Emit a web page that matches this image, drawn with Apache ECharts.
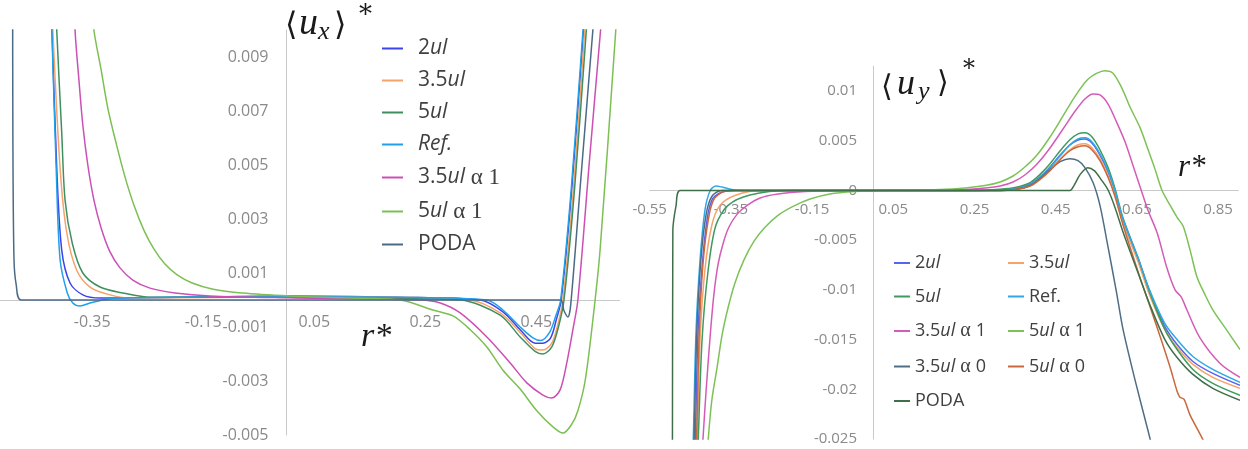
<!DOCTYPE html>
<html><head><meta charset="utf-8">
<script src="https://cdn.jsdelivr.net/npm/echarts@6/dist/echarts.min.js"></script>
<style>html,body{margin:0;padding:0;background:#fff}#c{width:1248px;height:449px}</style>
</head><body><div id="c"></div>
<script>
// ---------- LEFT PANEL: <u_x>* vs r* ----------
const L_2UL = [[-0.427,0.013],[-0.4225,0.01],[-0.414,0.0049],[-0.405,0.00185],[-0.39,0.00063],[-0.367,0.00019],[-0.336,0.00007],[-0.2,0.0001],[0,0.00015],[0.2,0.0001],[0.349,0],[0.39,-0.00044],[0.421,-0.0011],[0.448,-0.0016],[0.462,-0.0016],[0.476,-0.0014],[0.486,-0.00074],[0.495,0],[0.514,0.0041],[0.537,0.0105]];
const L_35UL = [[-0.426,0.013],[-0.421,0.01],[-0.408,0.0049],[-0.396,0.0025],[-0.378,0.0011],[-0.354,0.00048],[-0.318,0.00019],[-0.277,0.00007],[0,0.00012],[0.2,0.0001],[0.331,0],[0.385,-0.00048],[0.421,-0.0012],[0.448,-0.0018],[0.462,-0.00185],[0.478,-0.0016],[0.489,-0.0009],[0.498,0],[0.517,0.0041],[0.539,0.0105]];
const L_5UL = [[-0.419,0.013],[-0.414,0.01],[-0.405,0.0062],[-0.399,0.0037],[-0.386,0.0021],[-0.367,0.001],[-0.336,0.00048],[-0.295,0.00026],[-0.246,0.0001],[0,0.0001],[0.2,0.00005],[0.313,0],[0.385,-0.00056],[0.421,-0.00137],[0.448,-0.0019],[0.462,-0.002],[0.478,-0.00174],[0.49,-0.001],[0.5,0],[0.519,0.0041],[0.542,0.0105]];
const L_REF = [[-0.427,0.013],[-0.4225,0.0098],[-0.415,0.0049],[-0.408,0.0015],[-0.395,0.00026],[-0.385,-0.00011],[-0.372,-0.00022],[-0.354,-0.00011],[-0.331,0],[-0.305,0.00007],[0,0.00012],[0.2,0.0001],[0.361,0],[0.39,-0.00037],[0.421,-0.001],[0.444,-0.0014],[0.458,-0.0015],[0.474,-0.0012],[0.485,-0.0006],[0.494,0],[0.513,0.0041],[0.536,0.0105]];
const L_35A1 = [[-0.386,0.013],[-0.381,0.01],[-0.374,0.00815],[-0.367,0.00648],[-0.358,0.005],[-0.347,0.0037],[-0.334,0.00267],[-0.318,0.00178],[-0.3,0.00119],[-0.277,0.00074],[-0.246,0.00044],[-0.201,0.00026],[-0.138,0.00015],[0,0.00008],[0.241,0],[0.277,-0.00011],[0.313,-0.00048],[0.361,-0.00137],[0.403,-0.00233],[0.433,-0.00307],[0.462,-0.00352],[0.478,-0.00363],[0.493,-0.00333],[0.505,-0.00233],[0.516,-0.0011],[0.525,0],[0.546,0.0052],[0.568,0.0105]];
const L_5A1 = [[-0.352,0.0115],[-0.347,0.01],[-0.334,0.00852],[-0.322,0.00711],[-0.307,0.00581],[-0.291,0.00456],[-0.275,0.00352],[-0.257,0.00259],[-0.239,0.00189],[-0.219,0.00133],[-0.197,0.00093],[-0.17,0.00063],[-0.134,0.00041],[-0.08,0.00026],[0.006,0.00015],[0.1,0.00008],[0.205,0],[0.264,-0.00037],[0.3,-0.00059],[0.331,-0.0011],[0.361,-0.00174],[0.39,-0.0026],[0.421,-0.0033],[0.451,-0.0041],[0.48,-0.0047],[0.498,-0.00493],[0.514,-0.0046],[0.525,-0.0041],[0.538,-0.003],[0.552,-0.00074],[0.565,0.00185],[0.595,0.0105]];
const L_PODA = [[-0.4935,0.013],[-0.493,0.006],[-0.491,0.0015],[-0.487,0.00056],[-0.478,0],[0.493,0],[0.5,-0.0004],[0.507,-0.00063],[0.512,-0.0002],[0.53,0.0044],[0.554,0.0105]];

// ---------- RIGHT PANEL: <u_y>* vs r* ----------
const R_2UL = [[-0.44,-0.027],[-0.438,-0.0256],[-0.431,-0.0143],[-0.421,-0.0077],[-0.409,-0.003],[-0.397,-0.001],[-0.377,-0.00025],[-0.34,0],[0.2,0],[0.313,0.00005],[0.35,0.0002],[0.387,0.00065],[0.411,0.00136],[0.436,0.00237],[0.461,0.00357],[0.485,0.00458],[0.505,0.00508],[0.522,0.00518],[0.539,0.00478],[0.559,0.00357],[0.579,0.00186],[0.596,-0.00015],[0.616,-0.003],[0.653,-0.0069],[0.682,-0.0102],[0.719,-0.0137],[0.749,-0.0155],[0.788,-0.0172],[0.837,-0.0184],[0.904,-0.0196]];
const R_35UL = [[-0.435,-0.027],[-0.433,-0.0256],[-0.426,-0.015],[-0.414,-0.008],[-0.397,-0.0035],[-0.377,-0.0015],[-0.34,-0.0005],[-0.278,0],[0.3,0],[0.35,0.00012],[0.387,0.0005],[0.411,0.0012],[0.436,0.0021],[0.461,0.0032],[0.485,0.0041],[0.505,0.0046],[0.522,0.0047],[0.539,0.0043],[0.559,0.0032],[0.579,0.0015],[0.596,-0.0004],[0.616,-0.0033],[0.653,-0.0072],[0.682,-0.0106],[0.719,-0.014],[0.749,-0.0158],[0.788,-0.0175],[0.837,-0.0188],[0.904,-0.0199]];
const R_5UL = [[-0.433,-0.027],[-0.431,-0.0256],[-0.421,-0.015],[-0.406,-0.008],[-0.387,-0.0035],[-0.357,-0.0015],[-0.303,-0.00045],[-0.204,0],[0.25,0],[0.313,0.00012],[0.35,0.0003],[0.387,0.0008],[0.411,0.0016],[0.436,0.0027],[0.461,0.004],[0.485,0.0051],[0.505,0.0057],[0.522,0.0058],[0.539,0.0054],[0.559,0.0041],[0.579,0.0023],[0.596,0.0002],[0.616,-0.0028],[0.653,-0.0068],[0.682,-0.0103],[0.719,-0.014],[0.749,-0.016],[0.788,-0.018],[0.837,-0.0194],[0.904,-0.0206]];
const R_REF = [[-0.445,-0.027],[-0.443,-0.0256],[-0.436,-0.0143],[-0.426,-0.007],[-0.414,-0.002],[-0.401,0],[-0.387,0.00045],[-0.372,0.00035],[-0.34,0.00005],[-0.303,0],[0.3,0],[0.35,0.00015],[0.387,0.0006],[0.411,0.0013],[0.436,0.0023],[0.461,0.0035],[0.485,0.0046],[0.505,0.0052],[0.522,0.0053],[0.539,0.0049],[0.559,0.0037],[0.579,0.002],[0.596,0],[0.616,-0.0029],[0.653,-0.0068],[0.682,-0.0101],[0.719,-0.0134],[0.749,-0.015],[0.788,-0.0167],[0.837,-0.018],[0.904,-0.0193]];
const R_35A1 = [[-0.422,-0.027],[-0.419,-0.0251],[-0.411,-0.0201],[-0.401,-0.0146],[-0.392,-0.0105],[-0.382,-0.0075],[-0.369,-0.0053],[-0.355,-0.0037],[-0.335,-0.0024],[-0.31,-0.0015],[-0.278,-0.00075],[-0.234,-0.00035],[-0.167,-0.0001],[-0.081,0],[0.214,0.00007],[0.276,0.00025],[0.313,0.00045],[0.345,0.00086],[0.374,0.00156],[0.404,0.00267],[0.436,0.00428],[0.468,0.00619],[0.498,0.008],[0.522,0.00921],[0.542,0.00971],[0.559,0.00961],[0.579,0.0087],[0.601,0.00679],[0.621,0.00488],[0.64,0.00257],[0.658,0.00035],[0.677,-0.00196],[0.7,-0.00428],[0.724,-0.0078],[0.744,-0.01],[0.759,-0.0107],[0.773,-0.012],[0.805,-0.0148],[0.855,-0.0174],[0.904,-0.0188]];
const R_5A1 = [[-0.409,-0.027],[-0.406,-0.0251],[-0.397,-0.0211],[-0.384,-0.0178],[-0.372,-0.0146],[-0.357,-0.0118],[-0.34,-0.0093],[-0.318,-0.007],[-0.293,-0.0051],[-0.266,-0.0037],[-0.234,-0.0025],[-0.197,-0.0016],[-0.155,-0.00086],[-0.106,-0.00035],[-0.044,-0.0001],[0.017,0],[0.165,0.0001],[0.227,0.00025],[0.276,0.0005],[0.313,0.00086],[0.345,0.00146],[0.374,0.00236],[0.404,0.00357],[0.436,0.00538],[0.468,0.0075],[0.498,0.0095],[0.527,0.0111],[0.552,0.0118],[0.571,0.01205],[0.591,0.0118],[0.613,0.0103],[0.633,0.0084],[0.658,0.0063],[0.675,0.0044],[0.695,0.0021],[0.712,0],[0.732,-0.0015],[0.749,-0.0027],[0.764,-0.0036],[0.781,-0.006],[0.798,-0.0087],[0.818,-0.0105],[0.837,-0.012],[0.867,-0.0138],[0.904,-0.016]];
const R_35A0 = [[-0.443,-0.027],[-0.441,-0.0256],[-0.434,-0.0143],[-0.424,-0.007],[-0.411,-0.0024],[-0.397,-0.0006],[-0.372,0],[0.313,0],[0.35,0.0001],[0.387,0.0005],[0.411,0.0012],[0.436,0.0021],[0.461,0.0029],[0.485,0.0032],[0.505,0.003],[0.522,0.0023],[0.542,0.0008],[0.559,-0.0015],[0.579,-0.0057],[0.6,-0.0103],[0.616,-0.014],[0.645,-0.019],[0.677,-0.0241],[0.69,-0.0262]];
const R_5A0 = [[-0.437,-0.027],[-0.435,-0.0256],[-0.428,-0.0143],[-0.419,-0.0075],[-0.406,-0.003],[-0.392,-0.0009],[-0.367,-0.0001],[-0.33,0],[0.313,0],[0.35,0.0001],[0.387,0.00045],[0.411,0.0011],[0.436,0.002],[0.461,0.0031],[0.485,0.004],[0.505,0.0044],[0.522,0.0045],[0.539,0.0041],[0.559,0.003],[0.579,0.0013],[0.596,-0.0006],[0.616,-0.0035],[0.658,-0.0088],[0.7,-0.0138],[0.732,-0.0178],[0.749,-0.0202],[0.756,-0.0208],[0.766,-0.021],[0.781,-0.0226],[0.813,-0.0251],[0.825,-0.0265]];
const R_PODA = [[-0.495,-0.027],[-0.494,-0.0256],[-0.493,-0.004],[-0.485,-0.0015],[-0.475,0],[0.485,0],[0.495,0.0005],[0.51,0.0016],[0.529,0.0023],[0.545,0.002],[0.562,0.0011],[0.579,0.00005],[0.596,-0.0017],[0.616,-0.0042],[0.653,-0.0083],[0.682,-0.0115],[0.719,-0.015],[0.749,-0.0168],[0.788,-0.0185],[0.837,-0.0199],[0.904,-0.0211]];

const LEFT_NAMES = ['2ul','3.5ul','5ul','Ref.','3.5ul α 1','5ul α 1','PODA'];
const LEFT_DATA = [L_2UL,L_35UL,L_5UL,L_REF,L_35A1,L_5A1,L_PODA];
const LEFT_COLORS = ['#3a44ea','#f5a26b','#3f8f5f','#1fa0e8','#cc4fb4','#7cbf52','#4b6a86'];

const RIGHT_NAMES = ['2ul','3.5ul','5ul','Ref.','3.5ul α 1','5ul α 1','3.5ul α 0','5ul α 0','PODA'];
const RIGHT_DATA = [R_2UL,R_35UL,R_5UL,R_REF,R_35A1,R_5A1,R_35A0,R_5A0,R_PODA];
const RIGHT_COLORS = ['#5a62f0','#f5a26b','#3e9a5e','#2fa8e6','#d45bb8','#7cc257','#4f6e86','#c8683c','#3f6f4a'];

const chart = echarts.init(document.getElementById('c'), null, {renderer:'canvas'});

function mk(prefix, name, data, color, idx){
  return {type:'line', name: prefix + name, data: data, xAxisIndex: idx, yAxisIndex: idx,
    showSymbol:false, symbol:'none', smooth:0.3, clip:true, animation:false,
    lineStyle:{width:1.5, color:color}, itemStyle:{color:color}, emphasis:{disabled:true}};
}
const series = [];
LEFT_NAMES.forEach((n,i)=>series.push(mk('L|', n, LEFT_DATA[i], LEFT_COLORS[i], 0)));
RIGHT_NAMES.forEach((n,i)=>series.push(mk('R|', n, RIGHT_DATA[i], RIGHT_COLORS[i], 1)));

function leftFmt(name){
  const b = name.split('|')[1];
  let s;
  if (b === 'Ref.') s = '{i|Ref.}';
  else if (b === 'PODA') s = '{n|PODA}';
  else {
    const m = b.match(/^([\d.]+)ul( α \d)?$/);
    s = '{n|' + m[1] + '}{i|ul}' + (m[2] ? '{m|' + m[2] + '}' : '');
  }
  return '{sp| }' + s;
}
function rightFmt(name){
  const b = name.split('|')[1];
  if (b === 'Ref.' || b === 'PODA') return '{n|' + b + '}';
  const m = b.match(/^([\d.]+)ul(?: α (\d))?$/);
  return '{n|' + m[1] + '}{i|ul}' + (m[2] ? '{m| α }{n|' + m[2] + '}' : '');
}

const axisLineStyle = {color:'#c9c9c9', width:1};
const lblBase = {color:'#8a8a8a', fontFamily:'Open Sans'};

const option = {
  backgroundColor:'#ffffff',
  animation:false,
  grid:[
    {left:-18.75, right:628.5, top:30, bottom:14, containLabel:false, outerBoundsMode:'none'},
    {left:649.7, right:9.6, top:66.25, bottom:10, containLabel:false, outerBoundsMode:'none'}
  ],
  xAxis:[
    {gridIndex:0, type:'value', min:-0.55, max:0.6, interval:0.2, position:'bottom', offset:-135,
      axisLine:{show:true, onZero:false, lineStyle:axisLineStyle}, axisTick:{show:false}, splitLine:{show:false},
      axisLabel:Object.assign({showMaxLabel:false, margin:14, fontSize:16}, lblBase)},
    {gridIndex:1, type:'value', min:-0.55, max:0.9, interval:0.2, position:'bottom', offset:-248.5,
      axisLine:{show:true, onZero:false, lineStyle:axisLineStyle}, axisTick:{show:false}, splitLine:{show:false},
      axisLabel:Object.assign({showMaxLabel:false, margin:12, fontSize:15}, lblBase)}
  ],
  yAxis:[
    {gridIndex:0, type:'value', min:-0.005, max:0.01, interval:0.002, position:'left', offset:-305.25,
      axisLine:{show:true, onZero:false, lineStyle:axisLineStyle}, axisTick:{show:false}, splitLine:{show:false},
      axisLabel:Object.assign({showMaxLabel:false, margin:18, fontSize:16}, lblBase)},
    {gridIndex:1, type:'value', min:-0.025, max:0.0125, interval:0.005, position:'left', offset:-223.3,
      axisLine:{show:true, onZero:false, lineStyle:axisLineStyle}, axisTick:{show:false}, splitLine:{show:false},
      axisLabel:Object.assign({showMaxLabel:false, margin:16, fontSize:15}, lblBase)}
  ],
  legend:[
    {orient:'vertical', left:377, top:33, itemWidth:21, itemHeight:2, itemGap:11, icon:'rect',
      selectedMode:false, data: LEFT_NAMES.map(n=>'L|'+n), formatter:leftFmt,
      textStyle:{color:'#404040', fontSize:21, fontFamily:'Open Sans',
        rich:{
          sp:{width:10, fontSize:21, lineHeight:24},
          n:{color:'#404040', fontSize:21, fontFamily:'Open Sans', lineHeight:24},
          i:{color:'#404040', fontSize:21, fontFamily:'Open Sans', fontStyle:'italic', lineHeight:24},
          m:{color:'#404040', fontSize:23, fontFamily:'Liberation Serif', lineHeight:24}
        }}},
    {orient:'vertical', left:889, top:249, itemWidth:16, itemHeight:2, itemGap:15.5, icon:'rect',
      selectedMode:false, data:['R|2ul','R|5ul','R|3.5ul α 1','R|3.5ul α 0','R|PODA'], formatter:rightFmt,
      textStyle:{color:'#404040', fontSize:18, fontFamily:'Open Sans',
        rich:{
          n:{color:'#404040', fontSize:18, fontFamily:'Open Sans', lineHeight:22},
          i:{color:'#404040', fontSize:18, fontFamily:'Open Sans', fontStyle:'italic', lineHeight:22},
          m:{color:'#404040', fontSize:20, fontFamily:'Liberation Serif', lineHeight:22}
        }}},
    {orient:'vertical', left:1003, top:249, itemWidth:16, itemHeight:2, itemGap:15.5, icon:'rect',
      selectedMode:false, data:['R|3.5ul','R|Ref.','R|5ul α 1','R|5ul α 0'], formatter:rightFmt,
      textStyle:{color:'#404040', fontSize:18, fontFamily:'Open Sans',
        rich:{
          n:{color:'#404040', fontSize:18, fontFamily:'Open Sans', lineHeight:22},
          i:{color:'#404040', fontSize:18, fontFamily:'Open Sans', fontStyle:'italic', lineHeight:22},
          m:{color:'#404040', fontSize:20, fontFamily:'Liberation Serif', lineHeight:22}
        }}}
  ],
  graphic:[
    {type:'text', x:285, y:27, style:{text:'⟨', font:'32px "DejaVu Serif"', fill:'#1a1a1a', verticalAlign:'middle', textVerticalAlign:'middle'}},
    {type:'text', x:299, y:24, style:{text:'u', font:'italic 38px "Liberation Serif"', fill:'#1a1a1a', verticalAlign:'middle', textVerticalAlign:'middle'}},
    {type:'text', x:318, y:32, style:{text:'x', font:'italic 26px "Liberation Serif"', fill:'#1a1a1a', verticalAlign:'middle', textVerticalAlign:'middle'}},
    {type:'text', x:334, y:27, style:{text:'⟩', font:'32px "DejaVu Serif"', fill:'#1a1a1a', verticalAlign:'middle', textVerticalAlign:'middle'}},
    {type:'text', x:359, y:16, style:{text:'*', font:'26px "DejaVu Serif"', fill:'#1a1a1a', verticalAlign:'middle', textVerticalAlign:'middle'}},
    {type:'text', x:361, y:337, style:{text:'r*', font:'italic 34px "Liberation Serif"', fill:'#1a1a1a', verticalAlign:'middle', textVerticalAlign:'middle'}},
    {type:'text', x:881, y:88, style:{text:'⟨', font:'30px "DejaVu Serif"', fill:'#1a1a1a', verticalAlign:'middle', textVerticalAlign:'middle'}},
    {type:'text', x:897, y:85, style:{text:'u', font:'italic 36px "Liberation Serif"', fill:'#1a1a1a', verticalAlign:'middle', textVerticalAlign:'middle'}},
    {type:'text', x:918, y:92, style:{text:'y', font:'italic 26px "Liberation Serif"', fill:'#1a1a1a', verticalAlign:'middle', textVerticalAlign:'middle'}},
    {type:'text', x:937, y:84, style:{text:'⟩', font:'30px "DejaVu Serif"', fill:'#1a1a1a', verticalAlign:'middle', textVerticalAlign:'middle'}},
    {type:'text', x:963, y:70, style:{text:'*', font:'24px "DejaVu Serif"', fill:'#1a1a1a', verticalAlign:'middle', textVerticalAlign:'middle'}},
    {type:'text', x:1178, y:168, style:{text:'r*', font:'italic 31px "Liberation Serif"', fill:'#1a1a1a', verticalAlign:'middle', textVerticalAlign:'middle'}}
  ],
  series: series
};
chart.setOption(option);
</script></body></html>
